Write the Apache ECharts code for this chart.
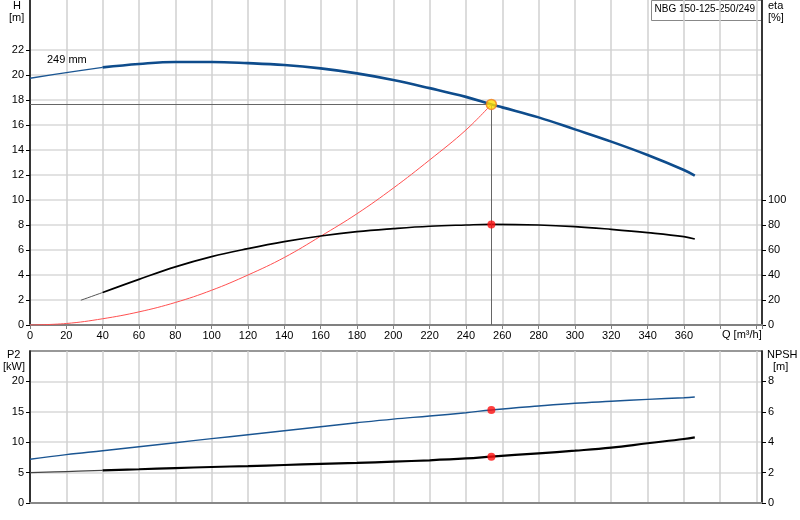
<!DOCTYPE html>
<html>
<head>
<meta charset="utf-8">
<script src="https://cdn.jsdelivr.net/npm/echarts/dist/echarts.min.js"></script>
<style>
  html, body { margin: 0; padding: 0; background: #fff; }
  #main { width: 800px; height: 520px; }
</style>
</head>
<body>
<div id="main"></div>
<script>
// pump curve NBG 150-125-250/249
var qHead = [0, 20, 40, 60, 80, 100, 120, 140, 160, 180, 200, 220, 240, 254, 260, 280, 300, 320, 340, 360, 366];
var head  = [19.74, 20.19, 20.61, 20.88, 21.04, 21.04, 20.95, 20.8, 20.53, 20.13, 19.6, 18.95, 18.25, 17.65, 17.41, 16.61, 15.65, 14.67, 13.6, 12.4, 11.95];

var qEta = [28, 40, 60, 80, 100, 120, 140, 160, 180, 200, 220, 240, 254, 280, 300, 320, 340, 360, 366];
var eta  = [19.8, 26, 36.5, 46.5, 54.7, 61.1, 66.7, 71.2, 74.7, 77.1, 79, 80, 80.5, 80, 78.7, 76.5, 73.9, 70.7, 68.8];

var qSys = [0, 20, 40, 60, 80, 100, 120, 140, 160, 180, 200, 220, 240, 254];
var sysH = [0, 0.12, 0.5, 1.05, 1.8, 2.78, 4.0, 5.4, 7.1, 8.9, 10.95, 13.2, 15.6, 17.65];

var qP2 = [0, 20, 40, 60, 80, 100, 120, 140, 160, 180, 200, 220, 240, 254, 280, 300, 320, 340, 360, 366];
var p2  = [7.19, 7.96, 8.6, 9.26, 9.92, 10.58, 11.23, 11.89, 12.55, 13.2, 13.8, 14.3, 14.85, 15.3, 15.95, 16.4, 16.73, 17.05, 17.32, 17.43];

var qNpsh = [0, 20, 40, 60, 80, 100, 120, 140, 160, 180, 200, 220, 240, 254, 280, 300, 320, 340, 360, 366];
var npsh  = [2.0, 2.07, 2.15, 2.22, 2.3, 2.37, 2.43, 2.5, 2.57, 2.64, 2.72, 2.81, 2.93, 3.05, 3.27, 3.44, 3.64, 3.93, 4.21, 4.32];

// labelled ticks on each axis
var hTicks    = [0, 2, 4, 6, 8, 10, 12, 14, 16, 18, 20, 22];
var etaTicks  = [0, 20, 40, 60, 80, 100];
var p2Ticks   = [0, 5, 10, 15, 20];
var npshTicks = [0, 2, 4, 6, 8];

// duty point
var opQ = 254, opH = 17.65, opEta = 80.5, opP2 = 15.3, opNpsh = 3.05;

var pairs = function (xs, ys) {
    return xs.map(function (x, i) { return [x, ys[i]]; });
};

var font = 'Liberation Sans';
var txt = { color: '#000', fontSize: 11, fontFamily: font };
var vGrid = { show: true, lineStyle: { color: '#d0d0d0', width: 1.5 } };
var hGrid = { show: true, lineStyle: { color: '#e2e2e2', width: 2 } };

function yAx(grid, pos, max, step, ticks, split) {
    return {
        gridIndex: grid, type: 'value', position: pos, min: 0, max: max, interval: step,
        axisLine: { show: true, lineStyle: { color: '#000', width: 1.5 } },
        axisTick: { show: true, length: 4, customValues: ticks, lineStyle: { color: '#000' } },
        axisLabel: Object.assign({ margin: 6, customValues: ticks }, txt),
        splitLine: split ? hGrid : { show: false }
    };
}

function label(x, y, s) {
    return { type: 'text', left: x, top: y, style: { text: s, fontSize: 11, fontFamily: font, fill: '#000' } };
}

var chart = echarts.init(document.getElementById('main'));
var option = {
    animation: false,
    textStyle: { fontFamily: font },
    grid: [
        { left: 30, right: 38, top: 0, height: 325 },
        { left: 30, right: 38, top: 351, height: 152, show: true, borderColor: '#777', borderWidth: 1.5 }
    ],
    xAxis: [
        {
            gridIndex: 0, type: 'value', min: 0, max: 403, interval: 20,
            axisLine: { lineStyle: { color: '#808080', width: 2 } },
            axisTick: { show: true, length: 4, lineStyle: { color: '#808080' } },
            axisLabel: Object.assign({ margin: 5, formatter: function (v) { return v <= 360 ? v : ''; } }, txt),
            splitLine: vGrid
        },
        {
            gridIndex: 1, type: 'value', min: 0, max: 403, interval: 20,
            axisLine: { lineStyle: { color: '#888', width: 2 } },
            axisTick: { show: false },
            axisLabel: { show: false },
            splitLine: vGrid
        }
    ],
    yAxis: [
        yAx(0, 'left', 26, 2, hTicks, true),
        yAx(0, 'right', 260, 20, etaTicks, false),
        yAx(1, 'left', 25, 5, p2Ticks, true),
        yAx(1, 'right', 10, 2, npshTicks, false)
    ],
    graphic: [
        label(13, 0, 'H'),
        label(9, 12, '[m]'),
        label(768, 0, 'eta'),
        label(768, 12, '[%]'),
        label(7, 349, 'P2'),
        label(3, 361, '[kW]'),
        label(767, 349, 'NPSH'),
        label(773, 361, '[m]'),
        label(722, 329, 'Q [m³/h]'),
        label(47, 54, '249 mm'),
        {
            type: 'group', left: 651, top: 0, z: 10, children: [
                { type: 'rect', shape: { x: 0, y: 0, width: 110, height: 20 }, style: { fill: '#fff', stroke: '#888', lineWidth: 1 } },
                { type: 'text', x: 3, y: 4, style: { text: 'NBG 150-125-250/249', fontSize: 10, fontFamily: font, fill: '#000' } }
            ]
        }
    ],
    series: [
        {
            name: 'H thin', type: 'line', xAxisIndex: 0, yAxisIndex: 0, smooth: 0.4,
            symbol: 'none', lineStyle: { color: '#1a5592', width: 1.3 },
            data: pairs(qHead.slice(0, 3), head.slice(0, 3))
        },
        {
            name: 'H', type: 'line', xAxisIndex: 0, yAxisIndex: 0, smooth: 0.4,
            symbol: 'none', lineStyle: { color: '#0e4c8c', width: 2.6 },
            data: pairs(qHead.slice(2), head.slice(2)),
            markLine: {
                silent: true, symbol: 'none', label: { show: false },
                lineStyle: { color: '#666', width: 1, type: 'solid' },
                data: [
                    [{ coord: [0, opH] }, { coord: [opQ, opH] }],
                    [{ coord: [opQ, opH] }, { coord: [opQ, 0] }]
                ]
            }
        },
        {
            name: 'system', type: 'line', xAxisIndex: 0, yAxisIndex: 0, smooth: 0.4,
            symbol: 'none', lineStyle: { color: '#ff5050', width: 1 },
            data: pairs(qSys, sysH)
        },
        {
            name: 'eta thin', type: 'line', xAxisIndex: 0, yAxisIndex: 1, smooth: 0.4,
            symbol: 'none', lineStyle: { color: '#555', width: 1 },
            data: pairs(qEta.slice(0, 2), eta.slice(0, 2))
        },
        {
            name: 'eta', type: 'line', xAxisIndex: 0, yAxisIndex: 1, smooth: 0.4,
            symbol: 'none', lineStyle: { color: '#000', width: 1.6 },
            data: pairs(qEta.slice(1), eta.slice(1))
        },
        {
            name: 'P2', type: 'line', xAxisIndex: 1, yAxisIndex: 2, smooth: 0.4,
            symbol: 'none', lineStyle: { color: '#1a5592', width: 1.4 },
            data: pairs(qP2, p2)
        },
        {
            name: 'NPSH thin', type: 'line', xAxisIndex: 1, yAxisIndex: 3, smooth: 0.4,
            symbol: 'none', lineStyle: { color: '#444', width: 1.3 },
            data: pairs(qNpsh.slice(0, 3), npsh.slice(0, 3))
        },
        {
            name: 'NPSH', type: 'line', xAxisIndex: 1, yAxisIndex: 3, smooth: 0.4,
            symbol: 'none', lineStyle: { color: '#000', width: 2.2 },
            data: pairs(qNpsh.slice(2), npsh.slice(2))
        },
        // duty point markers
        {
            type: 'scatter', xAxisIndex: 0, yAxisIndex: 0, z: 5, symbolSize: 10,
            itemStyle: { color: '#ffe000', borderColor: '#f08020', borderWidth: 1.5 },
            data: [[opQ, opH]]
        },
        {
            type: 'scatter', xAxisIndex: 0, yAxisIndex: 1, z: 5, symbolSize: 8,
            itemStyle: { color: '#ff1010' }, data: [[opQ, opEta]]
        },
        {
            type: 'scatter', xAxisIndex: 1, yAxisIndex: 2, z: 5, symbolSize: 8,
            itemStyle: { color: '#ff1010' }, data: [[opQ, opP2]]
        },
        {
            type: 'scatter', xAxisIndex: 1, yAxisIndex: 3, z: 5, symbolSize: 8,
            itemStyle: { color: '#ff1010' }, data: [[opQ, opNpsh]]
        }
    ]
};
chart.setOption(option);
</script>
</body>
</html>
